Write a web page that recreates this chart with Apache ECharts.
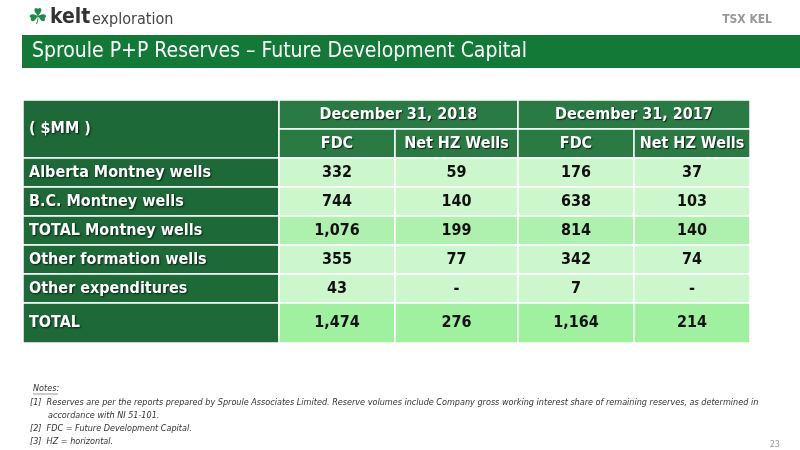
<!DOCTYPE html>
<html><head><meta charset="utf-8">
<script src="https://cdn.jsdelivr.net/npm/echarts@6/dist/echarts.min.js"></script>
<style>html,body{margin:0;padding:0;background:#fff}#c{width:800px;height:450px}</style>
</head><body><div id="c"></div>
<script>
(function () {
    var chart = echarts.init(document.getElementById('c'));
    var NARROW = '"DejaVu Sans Condensed", "Liberation Sans Narrow", sans-serif';

    // 表格数据
    var periods = ['December 31, 2018', 'December 31, 2017'];
    var columns = ['FDC', 'Net HZ Wells', 'FDC', 'Net HZ Wells'];
    var rowLabels = ['Alberta Montney wells', 'B.C. Montney wells', 'TOTAL Montney wells',
        'Other formation wells', 'Other expenditures', 'TOTAL'];
    var fdc2018 = ['332', '744', '1,076', '355', '43', '1,474'];
    var wells2018 = ['59', '140', '199', '77', '-', '276'];
    var fdc2017 = ['176', '638', '814', '342', '7', '1,164'];
    var wells2017 = ['37', '103', '140', '74', '-', '214'];

    // 布局 (像素坐标 -> value 轴)
    var colEdges = [23, 279, 395, 518, 634, 750];
    var rowEdges = [100, 129, 158, 187, 216, 245, 274, 303, 343];

    var cells = [];
    // kind: 0 corner, 1 period header, 2 column header, 3 row label, 4 value
    cells.push({ value: [0, 0, 1, 2], text: '( $MM )', kind: 0 });
    periods.forEach(function (p, i) {
        cells.push({ value: [1 + i * 2, 0, 2, 1], text: p, kind: 1 });
    });
    columns.forEach(function (c, i) {
        cells.push({ value: [1 + i, 1, 1, 1], text: c, kind: 2 });
    });
    var vals = [fdc2018, wells2018, fdc2017, wells2017];
    rowLabels.forEach(function (r, j) {
        var lvl = r === 'TOTAL' ? 2 : (r === 'TOTAL Montney wells' ? 1 : 0);
        cells.push({ value: [0, 2 + j, 1, 1], text: r, kind: 3 });
        vals.forEach(function (arr, i) {
            cells.push({ value: [1 + i, 2 + j, 1, 1], text: arr[j], kind: 4, lvl: lvl });
        });
    });

    var valueFills = ['#ccf7cc', '#aef0ae', '#9ff09f'];

    function renderItem(params, api) {
        var d = cells[params.dataIndex];
        var c = d.value[0], r = d.value[1];
        var p0 = api.coord([colEdges[c], rowEdges[r]]);
        var p1 = api.coord([colEdges[c + d.value[2]], rowEdges[r + d.value[3]]]);
        var fill, color = '#fff', align = 'center', x = (p0[0] + p1[0]) / 2, shadow = 0;
        if (d.kind === 4) { fill = valueFills[d.lvl]; color = '#111'; }
        else if (d.kind === 3 || d.kind === 0) { fill = '#1d6a38'; align = 'left'; x = p0[0] + 6; shadow = 2; }
        else { fill = '#2a7a44'; shadow = 1; }
        return {
            type: 'group',
            children: [{
                type: 'rect',
                shape: { x: p0[0], y: p0[1], width: p1[0] - p0[0], height: p1[1] - p0[1] },
                style: { fill: fill, stroke: '#ffffff', lineWidth: 1.5 }
            }, {
                type: 'text',
                style: {
                    x: x, y: (p0[1] + p1[1]) / 2, text: d.text, fill: color,
                    align: align, verticalAlign: 'middle',
                    font: 'bold 16px ' + NARROW,
                    textShadowColor: shadow ? 'rgba(0,0,0,0.7)' : 'transparent',
                    textShadowBlur: shadow, textShadowOffsetX: shadow ? 1 : 0, textShadowOffsetY: shadow ? 1 : 0
                }
            }]
        };
    }

    var notes = [
        '[1]  Reserves are per the reports prepared by Sproule Associates Limited. Reserve volumes include Company gross working interest share of remaining reserves, as determined in',
        '       accordance with NI 51-101.',
        '[2]  FDC = Future Development Capital.',
        '[3]  HZ = horizontal.'
    ];

    var option = {
        animation: false,
        grid: { left: 0, right: 0, top: 0, bottom: 0 },
        xAxis: { type: 'value', min: 0, max: 800, show: false },
        yAxis: { type: 'value', min: 0, max: 450, inverse: true, show: false },
        graphic: [
            { type: 'rect', shape: { x: 22, y: 35, width: 778, height: 33 }, style: { fill: '#127a36' } },
            { type: 'text', style: { x: 32, y: 52, text: 'Sproule P+P Reserves \u2013 Future Development Capital', fill: '#fff', font: '21px ' + NARROW, verticalAlign: 'middle' } },
            { type: 'text', style: { x: 28, y: 18, text: '\u2618', fill: '#1e8a44', font: '22px "DejaVu Sans"', verticalAlign: 'middle' } },
            { type: 'text', style: { x: 50, y: 18, text: 'kelt', fill: '#333', font: 'bold 21px ' + NARROW, verticalAlign: 'middle' } },
            { type: 'text', style: { x: 92, y: 20, text: 'exploration', fill: '#444', font: '16px ' + NARROW, verticalAlign: 'middle' } },
            { type: 'text', style: { x: 772, y: 20, text: 'TSX KEL', fill: '#999', font: 'bold 12px ' + NARROW, align: 'right', verticalAlign: 'middle' } },
            { type: 'text', style: { x: 33, y: 384, text: 'Notes:', fill: '#333', font: 'italic 9px ' + NARROW } },
            { type: 'line', shape: { x1: 33, y1: 394, x2: 58, y2: 394 }, style: { stroke: '#555', lineWidth: 0.6 } },
            { type: 'text', style: { x: 30, y: 396, text: notes.join('\n'), fill: '#333', font: 'italic 9px ' + NARROW, lineHeight: 13 } },
            { type: 'text', style: { x: 780, y: 440, text: '23', fill: '#999', font: '9px ' + NARROW, align: 'right' } }
        ],
        series: [{
            type: 'custom',
            renderItem: renderItem,
            data: cells.map(function (d) { return d.value; })
        }]
    };
    chart.setOption(option);
})();
</script>
</body></html>
